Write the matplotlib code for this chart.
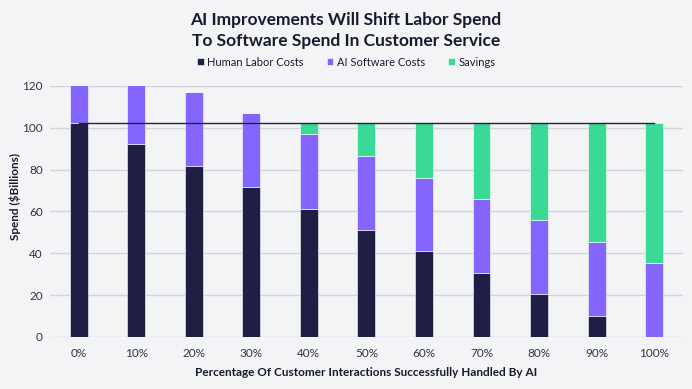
import matplotlib
matplotlib.use("Agg")
import matplotlib.pyplot as plt
import numpy as np

categories = ["0%", "10%", "20%", "30%", "40%", "50%", "60%", "70%", "80%", "90%", "100%"]
human = [102.5, 92.2, 81.8, 71.6, 61.4, 51.1, 41.0, 30.6, 20.4, 10.1, 0.0]
ai_software = [35.5, 35.5, 35.5, 35.5, 35.5, 35.5, 35.2, 35.4, 35.5, 35.5, 35.5]
baseline = 102.5
savings = [max(0.0, baseline - h - a) for h, a in zip(human, ai_software)]

plt.rcParams['font.family'] = ['Lato', 'DejaVu Sans']

bg = "#f3f4f6"
c_human = "#1f1f45"
c_ai = "#8466ff"
c_sav = "#3ad995"

fig = plt.figure(figsize=(6.92, 3.89), dpi=100, facecolor=bg)
ax = fig.add_axes([0.072, 0.1337, 0.915, 0.6453], facecolor=bg)

x = np.arange(len(categories))
w = 0.31
ax.bar(x, human, w, color=c_human, edgecolor="#ffffff", linewidth=0.4, label="Human Labor Costs", zorder=3)
ax.bar(x, ai_software, w, bottom=human, color=c_ai, edgecolor="#ffffff", linewidth=0.4, label="AI Software Costs", zorder=3)
bottoms = [h + a for h, a in zip(human, ai_software)]
ax.bar(x, savings, w, bottom=bottoms, color=c_sav, edgecolor="#ffffff", linewidth=0.4, label="Savings", zorder=3)

ax.plot([x[0], x[-1]], [baseline, baseline], color=c_human, linewidth=1.0, zorder=4)

ax.set_xlim(-0.5, 10.5)
ax.set_ylim(0, 120)
ax.set_yticks([0, 20, 40, 60, 80, 100, 120])
ax.set_xticks(x)
ax.set_xticklabels(categories)
ax.yaxis.grid(True, color="#d2d4d8", linewidth=1.0, zorder=0)
ax.set_axisbelow(True)
for s in ax.spines.values():
    s.set_visible(False)
ax.tick_params(axis='both', length=0, labelsize=8.5, colors="#333340", pad=5)
ax.tick_params(axis='x', pad=8)

fig.text(0.022, 0.496, "Spend ($Billions)", rotation=90, ha='center', va='center',
         fontsize=8.5, fontweight='bold', color="#1a1a2e")
ax.set_xlabel("Percentage Of Customer Interactions Successfully Handled By AI", fontsize=8.5,
              fontweight='bold', color="#1a1a2e", labelpad=6)

fig.text(0.5, 0.922, "AI Improvements Will Shift Labor Spend\nTo Software Spend In Customer Service",
         ha='center', va='center', fontsize=12.5, fontweight='bold', color="#1a1a2e", linespacing=1.35)

leg = fig.legend(loc='center', bbox_to_anchor=(0.5, 0.84), ncol=3, frameon=False, fontsize=8,
                 handlelength=0.6, handleheight=0.6, handletextpad=0.3, columnspacing=2.1)
for t in leg.get_texts():
    t.set_color("#1a1a2e")

fig.savefig("out.png", dpi=100, facecolor=bg)
